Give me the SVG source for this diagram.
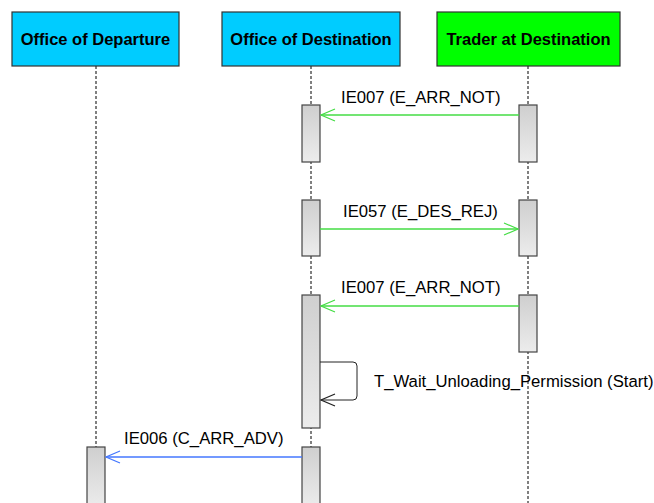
<svg xmlns="http://www.w3.org/2000/svg" width="654" height="503" viewBox="0 0 654 503">
<defs>
<linearGradient id="act" x1="0" y1="0" x2="0" y2="1">
<stop offset="0" stop-color="#cfcfcf"/>
<stop offset="1" stop-color="#ececec"/>
</linearGradient>
<marker id="ag" markerWidth="16" markerHeight="14" refX="15" refY="7" orient="auto" markerUnits="userSpaceOnUse">
<path d="M1,1 L15,7 L1,13" fill="none" stroke="#44dd44" stroke-width="1.2"/>
</marker>
<marker id="ab" markerWidth="16" markerHeight="14" refX="15" refY="7" orient="auto" markerUnits="userSpaceOnUse">
<path d="M1,1 L15,7 L1,13" fill="none" stroke="#4477ff" stroke-width="1.2"/>
</marker>
<marker id="ak" markerWidth="16" markerHeight="14" refX="15" refY="7" orient="auto" markerUnits="userSpaceOnUse">
<path d="M1,1 L15,7 L1,13" fill="none" stroke="#222" stroke-width="1.2"/>
</marker>
</defs>
<style>
.hdr{stroke:#333;stroke-width:1.2}
.ht{font-family:"Liberation Sans",Arial,sans-serif;font-weight:bold;font-size:16.5px;fill:#000;text-anchor:middle}
.life{stroke:#000;stroke-width:1;stroke-dasharray:3,2;fill:none}
.act{fill:url(#act);stroke:#444;stroke-width:1.2}
.lbl{font-family:"Liberation Sans",Arial,sans-serif;font-size:16.7px;fill:#000}
.g{stroke:#44dd44;stroke-width:1.5;fill:none}
.b{stroke:#4477ff;stroke-width:1.5;fill:none}
.k{stroke:#222;stroke-width:1;fill:none}
</style>
<rect width="654" height="503" fill="#fff"/>
<g id="lifelines">
<line class="life" x1="96" y1="66" x2="96" y2="503"/>
<line class="life" x1="311" y1="66" x2="311" y2="503"/>
<line class="life" x1="528" y1="66" x2="528" y2="503"/>
</g>
<g id="office-of-departure">
<rect class="hdr" x="12" y="12" width="167" height="54" fill="#00ccff"/>
<text class="ht" x="95.5" y="45">Office of Departure</text>
<rect class="act" x="87" y="447" width="18" height="60"/>
</g>
<g id="office-of-destination">
<rect class="hdr" x="222" y="12" width="178" height="54" fill="#00ccff"/>
<text class="ht" x="311" y="45">Office of Destination</text>
<rect class="act" x="302" y="105" width="18" height="57"/>
<rect class="act" x="302" y="200" width="18" height="56"/>
<rect class="act" x="302" y="295" width="18" height="133"/>
<rect class="act" x="302" y="447" width="18" height="60"/>
</g>
<g id="trader-at-destination">
<rect class="hdr" x="437" y="12" width="183" height="54" fill="#00ff00"/>
<text class="ht" x="528.5" y="45">Trader at Destination</text>
<rect class="act" x="519" y="105" width="18" height="57"/>
<rect class="act" x="519" y="200" width="18" height="56"/>
<rect class="act" x="519" y="295" width="18" height="57"/>
</g>
<g id="connectors">
<line class="g" x1="519" y1="115" x2="321" y2="115" marker-end="url(#ag)"/>
<text class="lbl" x="341" y="103">IE007 (E_ARR_NOT)</text>
<line class="g" x1="320" y1="229" x2="518" y2="229" marker-end="url(#ag)"/>
<text class="lbl" x="343" y="217">IE057 (E_DES_REJ)</text>
<line class="g" x1="519" y1="306" x2="321" y2="306" marker-end="url(#ag)"/>
<text class="lbl" x="341" y="293">IE007 (E_ARR_NOT)</text>
<path class="k" d="M320,362 H353 Q357,362 357,366 V396 Q357,400 353,400 H321" marker-end="url(#ak)"/>
<text class="lbl" x="374" y="387">T_Wait_Unloading_Permission (Start)</text>
<line class="b" x1="302" y1="457" x2="106" y2="457" marker-end="url(#ab)"/>
<text class="lbl" x="124" y="444">IE006 (C_ARR_ADV)</text>
</g>
</svg>
